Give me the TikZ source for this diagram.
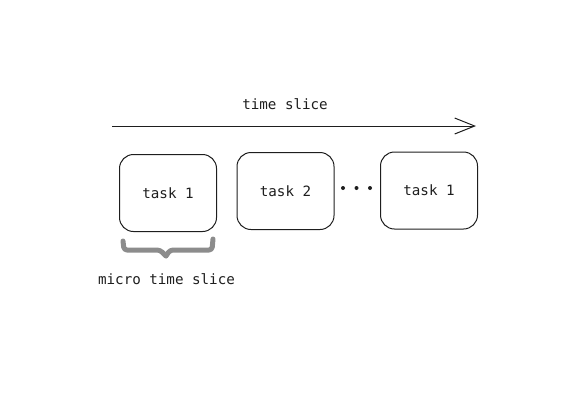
\documentclass[tikz,border=0pt]{standalone}
\usepackage{fontspec}
\setmonofont{DejaVu Sans Mono}
\usetikzlibrary{arrows.meta, positioning}
\definecolor{ink}{HTML}{1E1E1E}
\definecolor{bracegray}{HTML}{8C8C8C}
\tikzset{
	taskbox/.style={draw=ink, line width=1pt, rounded corners=14pt, minimum width=97pt, minimum height=77pt, font=\ttfamily\fontsize{14.2}{17}\selectfont, text=ink},
	lbl/.style={font=\ttfamily\fontsize{14.2}{17}\selectfont, text=ink},
}

\begin{document}
\begin{tikzpicture}[x=1pt, y=-1pt]
	\useasboundingbox (0,0) rectangle (588,408);
	\def\dotr{2}

	% --- time axis ---
	\coordinate (axstart) at (112,126);
	\coordinate (axend) at (476,126);
	\draw[-{Straight Barb[length=20pt, width=16pt]}, ink, line width=1pt] (axstart) -- (axend);
	\node[lbl] (tslice) at (285,104) {time slice};

	% --- tasks ---
	\node[taskbox] (task1) at (168,193) {task 1};
	\node[taskbox] (task2) at (285.5,191) {task 2};
	\node[taskbox] (task3) at (429,190.5) {task 1};
	\foreach \x in {343,356.5,370} \fill[ink] (\x,188) circle (\dotr);

	% --- micro slice brace ---
	\draw[bracegray, line width=5pt, line cap=round, line join=round, rounded corners=3pt]
		(123,241) -- (124,250) -- (160,250) -- (166,256)
		(166,256) -- (170,250) -- (212,250) -- (213,239);
	\node[lbl] (micro) at (166.5,279) {micro time slice};
\end{tikzpicture}
\end{document}
